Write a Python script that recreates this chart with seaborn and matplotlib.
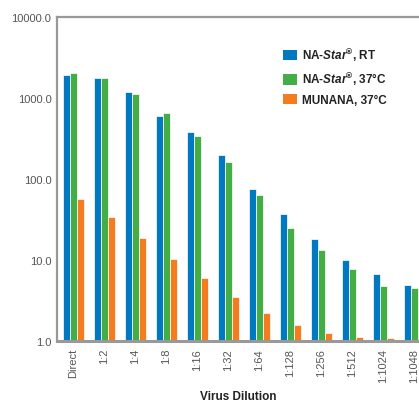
import numpy as np
import pandas as pd
import matplotlib
matplotlib.use("Agg")
import matplotlib.pyplot as plt
import seaborn as sns
from matplotlib.patches import Patch

# Virus dilution series
dilutions = ["Direct", "1:2", "1:4", "1:8", "1:16", "1:32", "1:64",
             "1:128", "1:256", "1:512", "1:1024", "1:1048"]

# Signal per assay (log scale)
na_star_rt = [1920, 1770, 1190, 600, 380, 200, 75, 37, 18.2, 10.0, 6.7, 4.9]
na_star_37 = [2040, 1770, 1120, 650, 340, 160, 63, 24.8, 13.3, 7.7, 4.8, 4.5]
munana_37 = [56.6, 34, 18.9, 10.3, 6.0, 3.5, 2.2, 1.58, 1.25, 1.12, 1.09, np.nan]

series_names = ["NA-Star, RT", "NA-Star, 37C", "MUNANA, 37C"]
legend_labels = [r"NA-$\mathbfit{Star}$$^{®}$, RT",
                 r"NA-$\mathbfit{Star}$$^{®}$, 37°C",
                 "MUNANA, 37°C"]
colors = ["#0079C1", "#45AD45", "#F47C20"]
y_ticks = [1, 10, 100, 1000, 10000]
y_ticklabels = ["1.0", "10.0", "100.0", "1000.0", "10000.0"]

df = pd.DataFrame({
    "Dilution": dilutions * 3,
    "Assay": np.repeat(series_names, len(dilutions)),
    "Signal": na_star_rt + na_star_37 + munana_37,
})

sns.set_style("white")
plt.rcParams["font.family"] = ["Liberation Sans", "DejaVu Sans"]
plt.rcParams["mathtext.fontset"] = "custom"
plt.rcParams["mathtext.rm"] = "Liberation Sans:bold"
plt.rcParams["mathtext.bf"] = "Liberation Sans:bold"
plt.rcParams["mathtext.bfit"] = "Liberation Sans:italic:bold"

fig = plt.figure(figsize=(4.19, 4.02), dpi=100)
ax = fig.add_axes([57 / 419, 60 / 402, (419 - 57) / 419, 324 / 402])
ax.set_yscale("log")

sns.barplot(data=df, x="Dilution", y="Signal", hue="Assay",
            hue_order=series_names, palette=colors, order=dilutions,
            width=0.68, edgecolor="white", linewidth=0.5, saturation=1,
            legend=False, ax=ax, errorbar=None)

ax.set_ylim(1, 10000)
ax.set_xlim(-0.53, 11.15)
ax.set_yticks(y_ticks)
ax.set_yticklabels(y_ticklabels)
ax.yaxis.set_minor_locator(matplotlib.ticker.NullLocator())
ax.tick_params(axis="both", length=0, labelsize=8, colors="#555555", pad=4)
ax.tick_params(axis="x", rotation=90, pad=5)
ax.set_ylabel("")
ax.set_xlabel("")
fig.text((57 + 419) / 2 / 419, 1 - 397 / 402, "Virus Dilution",
         ha="center", va="center", fontsize=8.5, fontweight="bold",
         color="#222222")

for side in ["left", "top", "bottom"]:
    ax.spines[side].set_color("#999999")
ax.spines["left"].set_linewidth(1.6)
ax.spines["top"].set_linewidth(1.6)
ax.spines["bottom"].set_linewidth(2.2)
ax.spines["right"].set_visible(False)

handles = [Patch(facecolor=c, edgecolor="none") for c in colors]
leg = fig.legend(handles, legend_labels, loc="upper left",
                 bbox_to_anchor=(283 / 419, 1 - 46 / 402), frameon=False,
                 prop={"weight": "bold", "size": 8.5},
                 handlelength=1.2, handleheight=1.0, handletextpad=0.45,
                 labelspacing=0.55, borderpad=0, borderaxespad=0)
for t in leg.get_texts():
    t.set_color("#222222")

fig.savefig("out.png", dpi=100)
